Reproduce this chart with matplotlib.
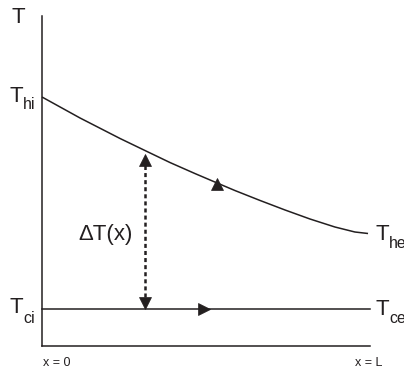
import matplotlib
matplotlib.use("Agg")
import matplotlib.pyplot as plt

plt.rcParams['font.family'] = ['Liberation Sans', 'DejaVu Sans']
plt.rcParams['lines.scale_dashes'] = False

# ---- data ----
x_hot = [0.0, 0.116, 0.238, 0.317, 0.390, 0.466, 0.534, 0.588, 0.665, 0.741, 0.817, 0.893, 0.954, 0.994]
T_hot = [249, 228, 207.5, 195, 183.5, 172.5, 163, 155.5, 145.5, 136, 127, 119, 114, 112.5]
x_cold = [0.0, 1.0]
T_cold = [37, 37]
x_dT = 0.314
dT_range = [49, 181]
dT_heads = [186, 43.5]
hot_arrow = (0.534, 162.5)
cold_arrow = (0.494, 37)

W, H = 404, 371
fig = plt.figure(figsize=(W / 100, H / 100), dpi=100)
ax = fig.add_axes([42 / W, 25 / H, 328 / W, 330 / H])
ax.set_xlim(0, 1)
ax.set_ylim(0, 330)
for s in ['top', 'right']:
    ax.spines[s].set_visible(False)
for s in ['left', 'bottom']:
    ax.spines[s].set_linewidth(1.1)
    ax.spines[s].set_color('#231f20')
ax.set_xticks([])
ax.set_yticks([])
ax.patch.set_alpha(0)

c = '#231f20'
ax.plot(x_hot, T_hot, color=c, lw=1.1, solid_capstyle='butt', clip_on=False)
ax.plot(x_cold, T_cold, color=c, lw=1.1, clip_on=False)
ax.plot([x_dT, x_dT], dT_range, color=c, lw=1.8, dashes=(2.9, 2.2))
ax.plot([x_dT], [dT_heads[0]], marker='^', ms=8.2, color=c, mec=c, mew=0.5)
ax.plot([x_dT], [dT_heads[1]], marker='v', ms=8.2, color=c, mec=c, mew=0.5)
ax.plot([hot_arrow[0]], [hot_arrow[1]], marker='^', ms=8.5, color=c, mec=c, mew=0.5)
ax.plot([cold_arrow[0]], [cold_arrow[1]], marker='>', ms=8.5, color=c, mec=c, mew=0.5)

def t(px, py, s, size):
    fig.text(px / W, 1 - py / H, s, fontsize=size, color=c, ha='left', va='baseline')

big, sub = 16, 11.5
t(12, 23, 'T', big)
t(9, 102, 'T', big); t(23, 109, 'hi', sub)
t(9, 313, 'T', big); t(23, 323, 'ci', sub)
t(376, 240, 'T', big); t(389, 248, 'he', sub)
t(376, 315, 'T', big); t(389, 323, 'ce', sub)
t(78, 240, 'ΔT(x)', big)
t(43, 366, 'x = 0', 9)
t(355, 366, 'x = L', 9)

fig.savefig('out.png', dpi=100)
